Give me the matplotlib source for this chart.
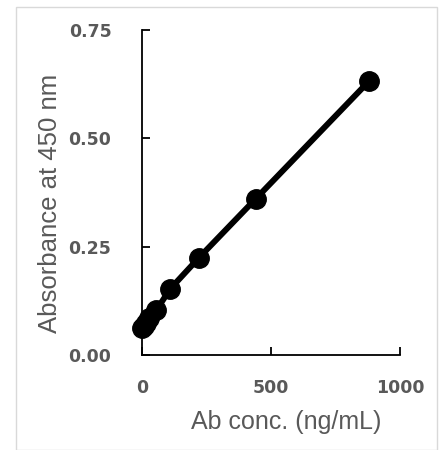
import matplotlib
matplotlib.use("Agg")
import matplotlib.pyplot as plt
from matplotlib.patches import Rectangle

plt.rcParams["font.family"] = ["Liberation Sans", "DejaVu Sans"]

conc = [0, 6.875, 13.75, 27.5, 55, 110, 220, 440, 880]
absorbance = [0.062, 0.067, 0.074, 0.086, 0.103, 0.153, 0.224, 0.360, 0.632]

x_ticks = [0, 500, 1000]
y_ticks = [0.00, 0.25, 0.50, 0.75]
y_tick_labels = ["0.00", "0.25", "0.50", "0.75"]

TEXT_GRAY = "#595959"

fig = plt.figure(figsize=(4.46, 4.5), dpi=100)
fig.patches.append(
    Rectangle((16 / 446, 0), 421 / 446, 443 / 450, transform=fig.transFigure,
              fill=False, edgecolor="#d9d9d9", linewidth=1)
)
ax = fig.add_axes([142 / 446, 1 - 355 / 450, 258 / 446, 325 / 450])

ax.plot(conc, absorbance, color="black", linewidth=4.3, marker="o",
        markersize=14, solid_capstyle="round", clip_on=False)

ax.set_xlim(0, 1000)
ax.set_ylim(0, 0.75)
ax.set_xticks(x_ticks)
ax.set_yticks(y_ticks)
ax.set_yticklabels(y_tick_labels)

for side in ["top", "right"]:
    ax.spines[side].set_visible(False)
for side in ["left", "bottom"]:
    ax.spines[side].set_linewidth(1.3)
    ax.spines[side].set_color("black")

ax.tick_params(axis="both", direction="in", length=6, width=1.3,
               labelcolor=TEXT_GRAY)
ax.tick_params(axis="y", pad=22)
ax.tick_params(axis="x", pad=17)
for lab in ax.get_xticklabels() + ax.get_yticklabels():
    lab.set_fontfamily("DejaVu Sans")
    lab.set_fontweight("bold")
    lab.set_fontsize(12.5)

ax.set_xlabel("Ab conc. (ng/mL)", fontsize=18, color=TEXT_GRAY)
ax.set_ylabel("Absorbance at 450 nm", fontsize=18.5, color=TEXT_GRAY)
ax.xaxis.set_label_coords(0.558, -0.168)
ax.yaxis.set_label_coords(-0.31, 0.468)

fig.savefig("out.png", dpi=100)
